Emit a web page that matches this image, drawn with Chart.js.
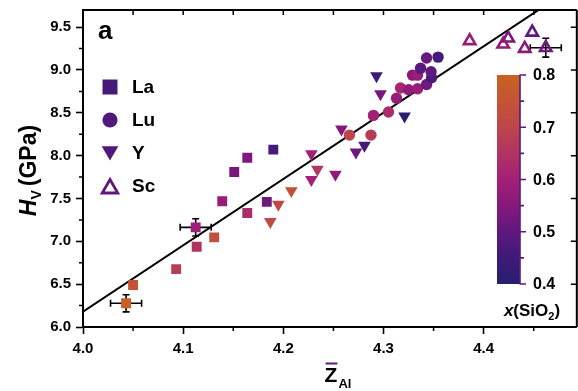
<!DOCTYPE html>
<html>
<head>
<meta charset="utf-8">
<script src="https://cdn.jsdelivr.net/npm/chart.js@4.4.1/dist/chart.umd.min.js"></script>
<style>
  body { margin: 0; background: #fff; }
  #wrap { width: 578px; height: 391px; }
</style>
</head>
<body>
<div id="wrap"><canvas id="chart" width="578" height="391"></canvas></div>
<script>
// La series (squares): mean Z, hardness, x(SiO2)
const laZ  = [4.043, 4.050, 4.093, 4.1125, 4.1135, 4.131, 4.139, 4.151, 4.164, 4.164, 4.1835, 4.190];
const laH  = [6.277, 6.49, 6.676, 7.163, 6.937, 7.046, 7.467, 7.81, 7.975, 7.33, 7.46, 8.07];
const laSi = [0.79, 0.75, 0.68, 0.59, 0.65, 0.73, 0.58, 0.53, 0.54, 0.63, 0.52, 0.46];

// Lu series (circles)
const luZ  = [4.266, 4.2875, 4.290, 4.305, 4.313, 4.317, 4.325, 4.334, 4.343, 4.348, 4.3475, 4.329, 4.334, 4.337, 4.343, 4.3545];
const luH  = [8.24, 8.24, 8.47, 8.51, 8.67, 8.79, 8.77, 8.78, 8.83, 8.91, 8.98, 8.94, 8.94, 9.02, 9.14, 9.15];
const luSi = [0.70, 0.67, 0.60, 0.63, 0.58, 0.62, 0.57, 0.58, 0.52, 0.47, 0.50, 0.56, 0.58, 0.49, 0.51, 0.46];

// Y series (down triangles)
const yZ  = [4.187, 4.195, 4.208, 4.228, 4.234, 4.228, 4.252, 4.2725, 4.281, 4.258, 4.321, 4.297, 4.293];
const yH  = [7.23, 7.43, 7.59, 7.72, 7.84, 8.02, 7.78, 8.04, 8.12, 8.31, 8.46, 8.72, 8.93];
const ySi = [0.72, 0.71, 0.74, 0.60, 0.66, 0.60, 0.57, 0.52, 0.46, 0.55, 0.41, 0.53, 0.45];

// Sc series (open up triangles)
const scZ  = [4.386, 4.4245, 4.4195, 4.4485, 4.441, 4.462];
const scH  = [9.34, 9.37, 9.30, 9.44, 9.25, 9.26];
const scSi = [0.58, 0.53, 0.57, 0.50, 0.56, 0.52];

// linear fit
const fitZ = [4.0, 4.456];
const fitH = [6.18, 9.71];

// error bars
const errZ  = [4.043, 4.1125, 4.462];
const errH  = [6.277, 7.163, 9.26];
const errDZ = [0.0155, 0.0155, 0.0155];
const errDH = [0.10, 0.10, 0.11];

// colour bar
const cbTicks = [0.4, 0.5, 0.6, 0.7, 0.8];
const cbMinor = [0.45, 0.55, 0.65, 0.75];
const cmapStops = [
  [0.40, [40, 30, 110]],
  [0.45, [62, 26, 120]],
  [0.50, [95, 24, 126]],
  [0.55, [134, 24, 124]],
  [0.60, [163, 32, 118]],
  [0.65, [176, 52, 98]],
  [0.70, [188, 70, 76]],
  [0.75, [196, 84, 52]],
  [0.80, [200, 98, 32]]
];

const legendNames = ['La', 'Lu', 'Y', 'Sc'];

// the plotted frame runs a few px past the right edge of the picture
const frameRightZ = 4.493;

function siColor(v) {
  if (v <= cmapStops[0][0]) return 'rgb(' + cmapStops[0][1].join(',') + ')';
  for (let i = 1; i < cmapStops.length; i++) {
    const [v1, c1] = cmapStops[i];
    const [v0, c0] = cmapStops[i - 1];
    if (v <= v1) {
      const t = (v - v0) / (v1 - v0);
      const c = c0.map((a, k) => Math.round(a + (c1[k] - a) * t));
      return 'rgb(' + c.join(',') + ')';
    }
  }
  return 'rgb(' + cmapStops[cmapStops.length - 1][1].join(',') + ')';
}

const pts = (xs, ys) => xs.map((x, i) => ({ x: x, y: ys[i] }));

function drawMarker(ctx, style, x, y, r, fill, stroke, lw) {
  ctx.beginPath();
  if (style === 'rect') {
    const s = r * Math.SQRT1_2;
    ctx.rect(x - s, y - s, 2 * s, 2 * s);
  } else if (style === 'circle') {
    ctx.arc(x, y, r, 0, 2 * Math.PI);
  } else {
    const d = style === 'down' ? -1 : 1;
    const hw = r * Math.sin(2 * Math.PI / 3);
    ctx.moveTo(x, y - d * r);
    ctx.lineTo(x + hw, y + d * r / 2);
    ctx.lineTo(x - hw, y + d * r / 2);
    ctx.closePath();
  }
  if (fill) { ctx.fillStyle = fill; ctx.fill(); }
  if (stroke) { ctx.strokeStyle = stroke; ctx.lineWidth = lw; ctx.stroke(); }
}

// draws runs of text with different fonts / offsets, centred on cx
function drawRuns(ctx, runs, cx, baseY) {
  let total = 0;
  runs.forEach(r => { ctx.font = r.font; total += ctx.measureText(r.text).width + (r.gap || 0); });
  let x = cx - total / 2;
  ctx.textAlign = 'left';
  ctx.textBaseline = 'alphabetic';
  runs.forEach(r => {
    ctx.font = r.font;
    ctx.fillText(r.text, x, baseY + (r.dy || 0));
    x += ctx.measureText(r.text).width + (r.gap || 0);
  });
  return cx - total / 2;
}

const errorBars = {
  id: 'errorBars',
  beforeDatasetsDraw(chart) {
    const { ctx, scales: { x, y } } = chart;
    ctx.save();
    ctx.strokeStyle = '#000';
    ctx.lineWidth = 1.6;
    errZ.forEach((z, i) => {
      const px = x.getPixelForValue(z), py = y.getPixelForValue(errH[i]);
      const x0 = x.getPixelForValue(z - errDZ[i]), x1 = x.getPixelForValue(z + errDZ[i]);
      const y0 = y.getPixelForValue(errH[i] - errDH[i]), y1 = y.getPixelForValue(errH[i] + errDH[i]);
      ctx.beginPath();
      ctx.moveTo(x0, py); ctx.lineTo(x1, py);
      ctx.moveTo(x0, py - 3.5); ctx.lineTo(x0, py + 3.5);
      ctx.moveTo(x1, py - 3.5); ctx.lineTo(x1, py + 3.5);
      ctx.moveTo(px, y0); ctx.lineTo(px, y1);
      ctx.moveTo(px - 3.5, y0); ctx.lineTo(px + 3.5, y0);
      ctx.moveTo(px - 3.5, y1); ctx.lineTo(px + 3.5, y1);
      ctx.stroke();
    });
    ctx.restore();
  }
};

const decorations = {
  id: 'decorations',
  afterDraw(chart) {
    const { ctx, chartArea: ca, scales: { x, y } } = chart;
    const rightEdge = x.getPixelForValue(frameRightZ);
    ctx.save();
    ctx.strokeStyle = '#000';
    ctx.fillStyle = '#000';

    // top border and bottom axis continued to the frame edge
    ctx.lineWidth = 2;
    ctx.beginPath();
    ctx.moveTo(ca.left - 1, ca.top);
    ctx.lineTo(rightEdge, ca.top);
    ctx.moveTo(ca.right - 1, ca.bottom);
    ctx.lineTo(rightEdge, ca.bottom);
    ctx.moveTo(rightEdge, ca.top);
    ctx.lineTo(rightEdge, ca.bottom);
    ctx.stroke();

    // minor outward ticks, inward ticks on top and right
    ctx.lineWidth = 1.5;
    ctx.beginPath();
    for (let v = 4.05; v < frameRightZ; v += 0.1) {
      const px = x.getPixelForValue(v);
      ctx.moveTo(px, ca.bottom); ctx.lineTo(px, ca.bottom + 4);
    }
    for (let v = 6.25; v < y.max; v += 0.5) {
      const py = y.getPixelForValue(v);
      ctx.moveTo(ca.left, py); ctx.lineTo(ca.left - 4, py);
    }
    for (let v = 4.0; v < frameRightZ; v += 0.05) {
      const px = x.getPixelForValue(v);
      ctx.moveTo(px, ca.top); ctx.lineTo(px, ca.top + 5);
    }
    for (let v = 6.0; v < y.max; v += 0.5) {
      const py = y.getPixelForValue(v);
      ctx.moveTo(rightEdge, py); ctx.lineTo(rightEdge - 6, py);
    }
    ctx.stroke();

    // panel label
    ctx.font = 'bold 26px "Liberation Sans", Arial, sans-serif';
    ctx.textAlign = 'left';
    ctx.textBaseline = 'alphabetic';
    ctx.fillText('a', ca.left + 15, ca.top + 29);

    // legend
    const lx = ca.left + 27;
    const ly = [ca.top + 77, ca.top + 110, ca.top + 143, ca.top + 176];
    drawMarker(ctx, 'rect', lx, ly[0], 10.6, siColor(0.46));
    drawMarker(ctx, 'circle', lx, ly[1], 7.6, siColor(0.48));
    drawMarker(ctx, 'down', lx, ly[2] - 2, 9.6, siColor(0.48));
    drawMarker(ctx, 'up', lx, ly[3] + 2.5, 9, null, siColor(0.5), 2.8);
    ctx.fillStyle = '#000';
    ctx.font = 'bold 19px "Liberation Sans", Arial, sans-serif';
    ctx.textBaseline = 'middle';
    legendNames.forEach((n, i) => ctx.fillText(n, lx + 22, ly[i] + 1));

    // colour bar
    const bx0 = 497, bx1 = 520;
    const cbPix = v => 284 - (v - 0.4) / 0.4 * 209;
    const grad = ctx.createLinearGradient(0, cbPix(0.4), 0, cbPix(0.8));
    cmapStops.forEach(([v, c]) => grad.addColorStop((v - 0.4) / 0.4, 'rgb(' + c.join(',') + ')'));
    ctx.fillStyle = grad;
    ctx.fillRect(bx0, cbPix(0.8), bx1 - bx0, cbPix(0.4) - cbPix(0.8));
    ctx.lineWidth = 1.6;
    ctx.beginPath();
    ctx.moveTo(bx1, cbPix(0.8) - 0.5); ctx.lineTo(bx1, cbPix(0.4) + 0.5);
    cbTicks.forEach(v => { ctx.moveTo(bx1, cbPix(v)); ctx.lineTo(bx1 + 6, cbPix(v)); });
    cbMinor.forEach(v => { ctx.moveTo(bx1, cbPix(v)); ctx.lineTo(bx1 + 4, cbPix(v)); });
    ctx.stroke();
    ctx.fillStyle = '#000';
    ctx.font = 'bold 16px "Liberation Sans", Arial, sans-serif';
    ctx.textBaseline = 'middle';
    cbTicks.forEach(v => ctx.fillText(v.toFixed(1), 533, cbPix(v) + 1));
    drawRuns(ctx, [
      { text: 'x', font: 'italic bold 17px "Liberation Sans", Arial, sans-serif' },
      { text: '(SiO', font: 'bold 17px "Liberation Sans", Arial, sans-serif' },
      { text: '2', font: 'bold 11px "Liberation Sans", Arial, sans-serif', dy: 4 },
      { text: ')', font: 'bold 17px "Liberation Sans", Arial, sans-serif' }
    ], 532, 316);

    // x axis title
    const zx = drawRuns(ctx, [
      { text: 'Z', font: 'bold 21px "Liberation Sans", Arial, sans-serif', gap: 1 },
      { text: 'Al', font: 'bold 13px "Liberation Sans", Arial, sans-serif', dy: 6 }
    ], 338, 382);
    ctx.font = 'bold 21px "Liberation Sans", Arial, sans-serif';
    const zw = ctx.measureText('Z').width;
    ctx.lineWidth = 2;
    ctx.beginPath();
    ctx.moveTo(zx + 1, 363.5); ctx.lineTo(zx + zw, 363.5);
    ctx.stroke();

    // y axis title
    ctx.translate(36, (ca.top + ca.bottom) / 2 + 2);
    ctx.rotate(-Math.PI / 2);
    drawRuns(ctx, [
      { text: 'H', font: 'italic bold 23px "Liberation Sans", Arial, sans-serif' },
      { text: 'V', font: 'bold 14px "Liberation Sans", Arial, sans-serif', dy: 5, gap: 4 },
      { text: '(GPa)', font: 'bold 23px "Liberation Sans", Arial, sans-serif' }
    ], 0, 0);
    ctx.restore();
  }
};

const tickFont = { family: '"Liberation Sans", Arial, sans-serif', size: 15, weight: 'bold' };

new Chart(document.getElementById('chart'), {
  type: 'scatter',
  data: {
    datasets: [
      {
        label: 'La', data: pts(laZ, laH), pointStyle: 'rect', pointRadius: 7,
        pointBackgroundColor: laSi.map(siColor), pointBorderWidth: 0
      },
      {
        label: 'Lu', data: pts(luZ, luH), pointStyle: 'circle', pointRadius: 5.7,
        pointBackgroundColor: luSi.map(siColor), pointBorderWidth: 0
      },
      {
        label: 'Y', data: pts(yZ, yH), pointStyle: 'triangle', pointRotation: 180, pointRadius: 7.3,
        pointBackgroundColor: ySi.map(siColor), pointBorderWidth: 0
      },
      {
        label: 'Sc', data: pts(scZ, scH), pointStyle: 'triangle', pointRadius: 6.6,
        pointBackgroundColor: 'rgba(255,255,255,0)', pointBorderColor: scSi.map(siColor), pointBorderWidth: 2.6
      },
      {
        type: 'line', label: 'fit', data: pts(fitZ, fitH), order: 10,
        borderColor: '#000', borderWidth: 2, pointRadius: 0, fill: false
      }
    ]
  },
  options: {
    responsive: false,
    animation: false,
    devicePixelRatio: 1,
    events: [],
    layout: { padding: { top: 10, right: -3, left: 0, bottom: 0 } },
    plugins: { legend: { display: false }, tooltip: { enabled: false } },
    scales: {
      x: {
        type: 'linear', min: 4.0, max: 4.485,
        afterFit: s => { s.height = 64; s.paddingLeft = 0; s.paddingRight = 0; },
        ticks: { stepSize: 0.1, includeBounds: false, color: '#000', font: tickFont, padding: 6,
          maxRotation: 0, callback: v => v.toFixed(1) },
        grid: { drawOnChartArea: false, tickLength: 7, tickWidth: 1.6, tickColor: '#000' },
        border: { color: '#000', width: 2 }
      },
      y: {
        type: 'linear', min: 6.0, max: 9.7,
        afterFit: s => { s.width = 83; s.paddingTop = 0; s.paddingBottom = 0; },
        ticks: { stepSize: 0.5, includeBounds: false, color: '#000', font: tickFont, padding: 5,
          callback: v => v.toFixed(1) },
        grid: { drawOnChartArea: false, tickLength: 7, tickWidth: 1.6, tickColor: '#000' },
        border: { color: '#000', width: 2 }
      }
    }
  },
  plugins: [errorBars, decorations]
});
</script>
</body>
</html>
